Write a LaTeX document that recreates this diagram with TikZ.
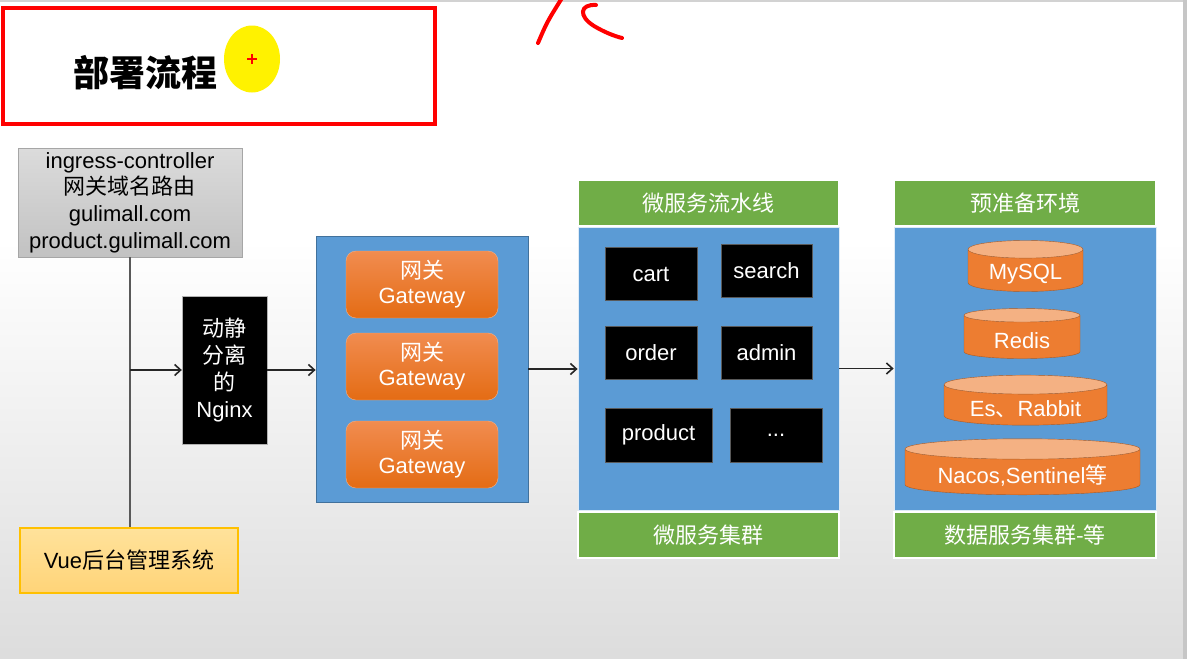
\documentclass[tikz,border=0pt]{standalone}
\usepackage{fontspec}
\setmainfont{Liberation Sans}
\newfontfamily\cjk{Noto Sans CJK SC}
\usetikzlibrary{shapes.geometric,arrows.meta}

\definecolor{panelblue}{RGB}{91,155,213}
\definecolor{paneledge}{RGB}{65,113,156}
\definecolor{headgreen}{RGB}{112,173,71}
\definecolor{gwtop}{RGB}{241,140,80}
\definecolor{gwbottom}{RGB}{228,108,20}
\definecolor{dbfill}{RGB}{237,125,49}
\definecolor{dbtop}{RGB}{244,177,131}
\definecolor{dbedge}{RGB}{174,90,33}
\definecolor{vueedge}{RGB}{255,192,0}
\definecolor{vuetop}{RGB}{255,226,155}
\definecolor{vuebottom}{RGB}{255,212,120}

\newcommand{\dblabel}[1]{\raisebox{-4pt}[\height][\depth]{#1}}

\begin{document}
\begin{tikzpicture}[x=1pt, y=-1pt]
    % Define styles
    \tikzset{
        basetext/.style={font=\fontsize{22}{26}\selectfont, inner sep=0pt, align=center},
        ingressbox/.style={basetext, draw=gray!70, top color=gray!28, bottom color=gray!48, minimum width=224pt, minimum height=109pt, font=\fontsize{22}{26.7}\selectfont},
        nginxbox/.style={basetext, draw=gray!60, fill=black, text=white, minimum width=85pt, minimum height=148pt, font=\fontsize{22}{27}\selectfont},
        panelbox/.style={draw=paneledge, fill=panelblue, line width=0.8pt, inner sep=0pt},
        gatewaybox/.style={basetext, draw=gwtop!70!white, top color=gwtop, bottom color=gwbottom, rounded corners=10pt, text=white, minimum width=152pt, minimum height=67pt, font=\fontsize{22}{25}\selectfont},
        headerbox/.style={basetext, draw=white, line width=1.2pt, fill=headgreen, text=white, minimum width=261pt, minimum height=46pt},
        servicebox/.style={basetext, draw=gray!70!black, fill=black, text=white, minimum height=53pt},
        dbcylinder/.style={basetext, shape=cylinder, shape border rotate=90, draw=dbedge, cylinder uses custom fill, cylinder body fill=dbfill, cylinder end fill=dbtop, text=white},
        flowarrow/.style={-{Straight Barb[length=6pt,width=11pt,line width=1.6pt]}, line width=1.8pt, draw=black!85},
        plainline/.style={line width=2.6pt, draw=black!65}
    }

    % Canvas
    \useasboundingbox (0,0) rectangle (1187,659);
    \fill[white] (0,0) rectangle (1187,240);
    \shade[top color=white, bottom color=gray!10] (0,240) rectangle (1187,400);
    \shade[top color=gray!10, bottom color=gray!27] (0,400) rectangle (1187,659);
    \fill[gray!35] (0,0) rectangle (1187,2);
    \fill[gray!45] (1183,0) rectangle (1187,659);

    % Title
    \node[draw=red, line width=4pt, minimum width=432pt, minimum height=116pt, inner sep=0pt] (titlebox) at (219,66) {};
    \node[font=\fontsize{36}{38}\selectfont\cjk\bfseries, inner sep=0pt] (title) at (145.5,73) {部署流程};
    \node[ellipse, fill=yellow, minimum width=56pt, minimum height=67pt, inner sep=0pt] (cursor) at (252,59) {};
    \draw[red, line width=1.5pt] ([xshift=-5pt]cursor.center) -- ([xshift=5pt]cursor.center)
                                 ([yshift=-5pt]cursor.center) -- ([yshift=5pt]cursor.center);
    \draw[red, line width=4pt, line cap=round] (538,43) .. controls (547,22) .. (562,-2);
    \draw[red, line width=4pt, line cap=round] (596,5) .. controls (580,4) and (578,16) .. (594,26)
                                               .. controls (604,32) and (614,36) .. (622,38);

    % Entry nodes
    \node[ingressbox] (ingress) at (130,202.5) {ingress-controller\\{\cjk 网关域名路由}\\gulimall.com\\product.gulimall.com};
    \node[basetext, draw=vueedge, line width=1.5pt, top color=vuetop, bottom color=vuebottom, minimum width=218pt, minimum height=65pt] (vue) at (129,560.5) {Vue{\cjk 后台管理系统}};
    \node[nginxbox] (nginx) at (224.5,370) {{\cjk 动静}\\{\cjk 分离}\\{\cjk 的}\\Nginx};
    \coordinate (junction) at (ingress.south |- nginx.west);

    % Gateway cluster
    \node[panelbox, minimum width=212pt, minimum height=266pt] (gwpanel) at (422,369) {};
    \node[gatewaybox] (gw1) at (422,284.5) {{\cjk 网关}\\Gateway};
    \node[gatewaybox] (gw2) at (422,366.5) {{\cjk 网关}\\Gateway};
    \node[gatewaybox] (gw3) at (422,454.5) {{\cjk 网关}\\Gateway};

    % Microservice cluster
    \node[headerbox] (msheader) at (708.5,203) {\cjk 微服务流水线};
    \node[panelbox, draw=white!80!panelblue, minimum width=261pt, minimum height=283pt] (mspanel) at (708.5,368.5) {};
    \node[headerbox] (msfooter) at (708.5,535) {\cjk 微服务集群};
    \node[servicebox, minimum width=92pt] (cart) at (651,274) {cart};
    \node[servicebox, minimum width=91pt] (search) at (766.5,270.5) {search};
    \node[servicebox, minimum width=92pt] (order) at (651,353) {order};
    \node[servicebox, minimum width=91pt] (admin) at (766.5,353) {admin};
    \node[servicebox, minimum width=107pt, minimum height=54pt] (product) at (658.5,435) {product};
    \node[servicebox, minimum width=92pt, minimum height=54pt] (more) at (776,435) {...};

    % Data services
    \node[headerbox, minimum width=262pt] (dataheader) at (1025,203) {\cjk 预准备环境};
    \node[panelbox, draw=white!80!panelblue, minimum width=262pt, minimum height=283pt] (datapanel) at (1025,368.5) {};
    \node[headerbox, minimum width=262pt] (datafooter) at (1025,535) {\cjk 数据服务集群-等};
    \node[dbcylinder, minimum width=115pt, minimum height=51pt, aspect=0.24] (mysql) at (1025.5,270.5) {\dblabel{MySQL}};
    \node[dbcylinder, minimum width=116pt, minimum height=50pt, aspect=0.24] (redis) at (1022,337) {\dblabel{Redis}};
    \node[dbcylinder, minimum width=163pt, minimum height=50pt, aspect=0.17] (es) at (1025.5,405) {\dblabel{Es{\cjk 、}Rabbit}};
    \node[dbcylinder, minimum width=235pt, minimum height=56pt, aspect=0.12] (nacos) at (1022.5,472) {\dblabel{Nacos,Sentinel{\cjk 等}}};

    % Connectors
    \draw[plainline] (ingress.south) -- (ingress.south |- vue.north);
    \draw[flowarrow] (junction) -- (nginx.west);
    \draw[flowarrow] (nginx.east) -- (nginx.east -| gwpanel.west);
    \draw[flowarrow] (gwpanel.east) -- (gwpanel.east -| mspanel.west);
    \draw[flowarrow] (mspanel.east) -- (mspanel.east -| datapanel.west);

\end{tikzpicture}
\end{document}
